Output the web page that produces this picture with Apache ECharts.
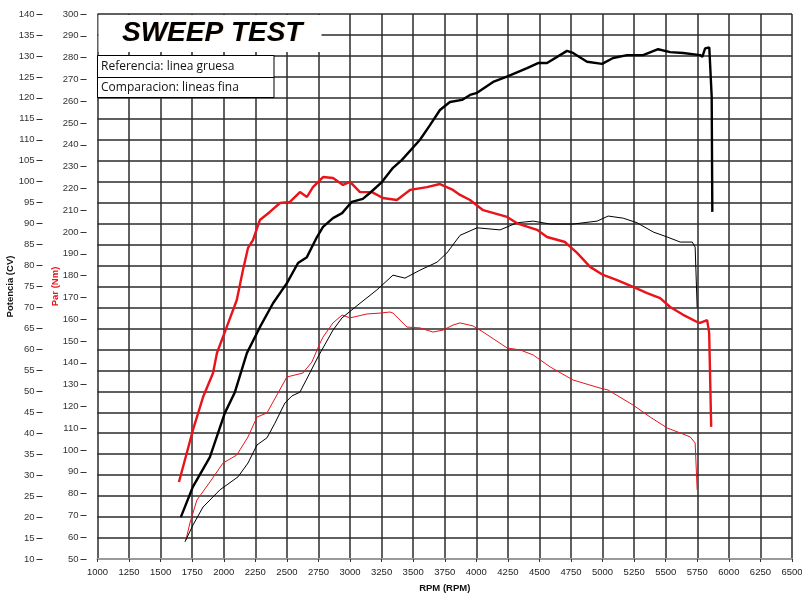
<!DOCTYPE html>
<html>
<head>
<meta charset="utf-8">
<script src="https://cdn.jsdelivr.net/npm/echarts@6/dist/echarts.min.js"></script>
<style>html,body{margin:0;padding:0;background:#fff}#c{width:802px;height:597px}</style>
</head>
<body>
<div id="c"></div>
<script>
// RPM ticks: 1000..6500 every 250
const xTicks = [1000,1250,1500,1750,2000,2250,2500,2750,3000,3250,3500,3750,4000,4250,4500,4750,5000,5250,5500,5750,6000,6250,6500];

// Reference power (thick black), CV
const powerRefRpm = [1660,1755,1890,2008,2088,2183,2286,2390,2500,2588,2658,2738,2786,2865,2937,3014,3101,3157,3252,3340,3411,3554,3633,3712,3791,3887,3950,4006,4133,4252,4402,4489,4560,4718,4766,4877,4996,5083,5194,5321,5440,5535,5638,5772,5790,5812,5824,5845,5864,5869];
const powerRefCv  = [20.0,27.2,34.3,44.8,49.8,59.1,65.3,71.0,75.8,80.6,82.0,86.8,89.2,91.3,92.5,95.2,95.9,97.3,99.9,103.3,105.2,110.0,113.5,117.1,119.0,119.5,120.7,121.2,123.8,125.2,127.1,128.3,128.3,131.2,130.7,128.6,128.1,129.5,130.2,130.2,131.6,130.9,130.7,130.2,129.8,131.8,132.2,132.0,120.3,92.8];

// Reference torque (thick red), Nm
const torqueRefRpm = [1645,1707,1756,1836,1915,1946,2023,2103,2152,2192,2231,2286,2365,2445,2524,2603,2659,2706,2786,2865,2944,3000,3079,3174,3260,3371,3475,3609,3712,3815,3871,3950,4054,4244,4323,4481,4560,4703,4798,4901,5004,5110,5242,5353,5456,5535,5638,5749,5772,5828,5844,5860];
const torqueRefNm  = [85.3,98.6,109.2,124.3,135.3,144.5,156.4,168.8,182.6,192.7,196.3,205.5,209.2,213.3,213.8,218.3,216.1,220.6,225.2,224.8,221.6,223.0,218.3,218.3,215.6,214.7,219.3,220.6,222.0,219.3,217.0,214.7,210.0,206.9,204.0,201.0,197.7,195.4,190.4,184.0,180.3,178.0,174.8,172.0,169.7,165.6,162.0,158.7,158.3,159.6,153.7,110.6];

// Comparison power (thin black), CV
const powerCmpRpm = [1693,1756,1836,1970,2113,2192,2263,2342,2405,2484,2540,2603,2682,2746,2865,2936,3079,3213,3340,3435,3554,3689,3767,3871,4006,4188,4323,4450,4585,4766,4957,5044,5163,5273,5401,5512,5615,5710,5733,5749];
const powerCmpCv  = [14.1,18.1,22.4,26.5,29.6,32.9,37.2,38.9,42.4,47.2,48.9,49.8,54.4,58.2,64.6,67.5,71.0,74.2,77.7,77.0,78.9,80.8,83.0,87.2,89.0,88.5,90.2,90.6,89.9,89.9,90.6,91.8,91.3,90.2,88.0,86.8,85.6,85.6,84.4,70.0];

// Comparison torque (thin red), Nm
const torqueCmpRpm = [1700,1732,1787,1890,1994,2103,2192,2263,2342,2429,2500,2627,2698,2762,2786,2865,2937,3000,3134,3237,3316,3340,3451,3554,3657,3736,3815,3871,3974,4054,4244,4347,4450,4585,4766,4980,5044,5242,5377,5512,5615,5694,5733,5749];
const torqueCmpNm  = [58.7,66.5,77.0,85.3,94.0,97.7,106.0,115.1,117.0,126.1,133.5,135.3,140.4,149.0,151.8,158.3,161.9,160.6,162.4,162.8,163.3,162.8,156.4,156.0,154.1,155.0,157.3,158.3,156.9,154.1,146.8,145.9,143.6,138.1,132.1,128.4,127.5,120.6,115.1,110.1,107.8,106.0,103.2,81.7];

const zip = (a, b) => a.map((v, i) => [v, b[i]]);
const RED = '#e8141a';
const narrow = "'Liberation Sans Narrow','Liberation Sans',Arial,sans-serif";
const sans = "'Liberation Sans',Arial,sans-serif";
const plain = v => String(v);

const chart = echarts.init(document.getElementById('c'), null, {renderer: 'canvas'});
chart.setOption({
  animation: false,
  backgroundColor: '#fff',
  grid: {left: 97.5, right: 10, top: 14, bottom: 38, containLabel: false, outerBoundsMode: 'none'},
  xAxis: {
    type: 'value', min: xTicks[0], max: xTicks[xTicks.length - 1], interval: 250,
    name: 'RPM (RPM)', nameLocation: 'middle', nameGap: 24, nameMoveOverlap: false,
    nameTextStyle: {fontFamily: sans, fontSize: 9.5, fontWeight: 'bold', color: '#111'},
    axisLine: {show: true, lineStyle: {color: '#9a9a9a', width: 2}},
    axisTick: {show: true, length: 3, lineStyle: {color: '#333'}},
    axisLabel: {fontFamily: sans, fontSize: 9.5, color: '#222', margin: 8, formatter: plain},
    splitLine: {show: true, lineStyle: {color: '#2b2b2b', width: 1.5}}
  },
  yAxis: [
    {
      type: 'value', min: 10, max: 140, interval: 5, position: 'left', offset: 55,
      name: 'Potencia (CV)', nameLocation: 'middle', nameGap: 27, nameRotate: 90, nameMoveOverlap: false,
      nameTextStyle: {fontFamily: sans, fontSize: 9.5, fontWeight: 'bold', color: '#111'},
      axisLine: {show: false},
      axisTick: {show: true, length: 6, inside: false, lineStyle: {color: '#333'}},
      axisLabel: {fontFamily: narrow, fontSize: 9.5, color: '#333', margin: 8, formatter: plain},
      splitLine: {show: true, lineStyle: {color: '#2b2b2b', width: 1.5}}
    },
    {
      type: 'value', min: 50, max: 300, interval: 10, position: 'left', offset: 11,
      name: 'Par (Nm)', nameLocation: 'middle', nameGap: 26, nameRotate: 90, nameMoveOverlap: false,
      nameTextStyle: {fontFamily: sans, fontSize: 9.5, fontWeight: 'bold', color: RED},
      axisLine: {show: false},
      axisTick: {show: true, length: 6, lineStyle: {color: '#333'}},
      axisLabel: {fontFamily: narrow, fontSize: 9.5, color: '#333', margin: 8, formatter: plain},
      splitLine: {show: false}
    }
  ],
  series: [
    {type: 'line', yAxisIndex: 1, showSymbol: false, data: zip(torqueCmpRpm, torqueCmpNm), lineStyle: {color: RED, width: 1}, z: 3},
    {type: 'line', yAxisIndex: 0, showSymbol: false, data: zip(powerCmpRpm, powerCmpCv), lineStyle: {color: '#000', width: 1}, z: 3},
    {type: 'line', yAxisIndex: 1, showSymbol: false, data: zip(torqueRefRpm, torqueRefNm), lineStyle: {color: RED, width: 2.4}, z: 4},
    {type: 'line', yAxisIndex: 0, showSymbol: false, data: zip(powerRefRpm, powerRefCv), lineStyle: {color: '#000', width: 2.4}, z: 4}
  ],
  graphic: [
    {type: 'rect', z: 100, shape: {x: 98.5, y: 15, width: 223, height: 37}, style: {fill: '#fff', stroke: null}},
    {type: 'text', z: 101, x: 122, y: 33, style: {text: 'SWEEP TEST', fill: '#000', font: "italic bold 28px 'Liberation Sans', Arial, sans-serif", verticalAlign: 'middle', textShadowColor: 'rgba(220,130,40,0.45)', textShadowBlur: 1, textShadowOffsetX: 0.6, textShadowOffsetY: 0.6}},
    {type: 'rect', z: 100, shape: {x: 97.5, y: 55.5, width: 176.5, height: 42}, style: {fill: '#fff', stroke: '#000', lineWidth: 1}},
    {type: 'line', z: 101, shape: {x1: 97.5, y1: 77.5, x2: 274, y2: 77.5}, style: {stroke: '#000', lineWidth: 1}},
    {type: 'text', z: 101, x: 101, y: 66.5, style: {text: 'Referencia: linea gruesa', fill: '#111', font: "12px 'Open Sans', sans-serif", verticalAlign: 'middle'}},
    {type: 'text', z: 101, x: 101, y: 88, style: {text: 'Comparacion: lineas fina', fill: '#111', font: "12px 'Open Sans', sans-serif", verticalAlign: 'middle'}}
  ]
});
</script>
</body>
</html>
